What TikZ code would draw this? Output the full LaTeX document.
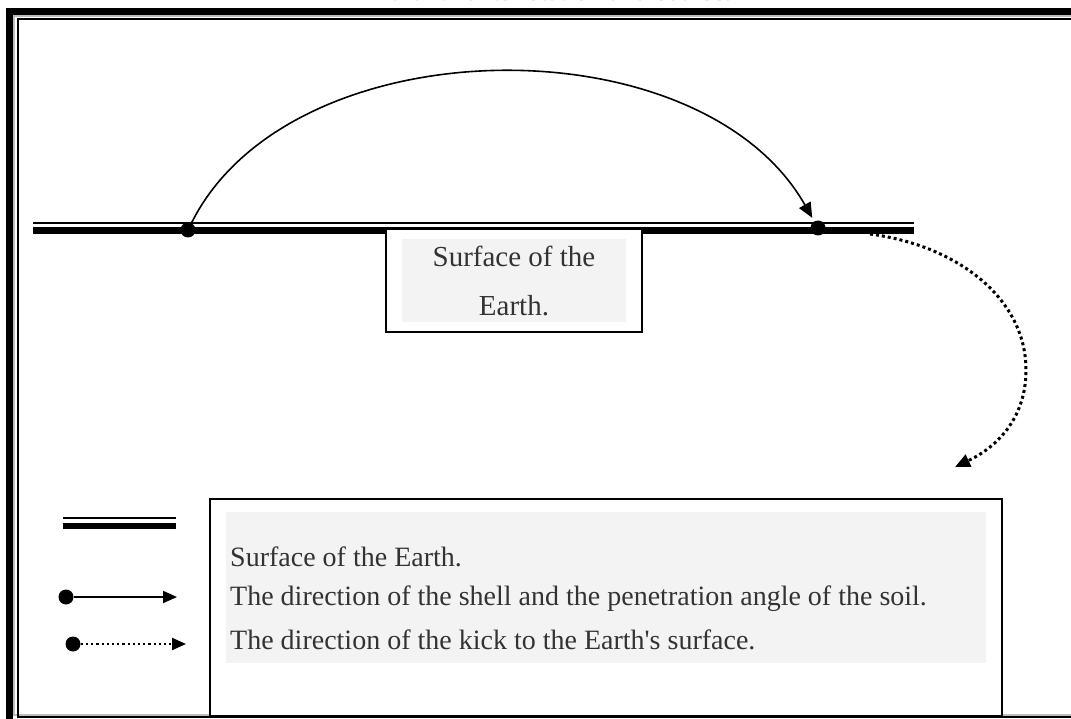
\documentclass[tikz,border=0pt]{standalone}
\usepackage{fontspec}
\setmainfont{Liberation Serif}
\usetikzlibrary{arrows.meta}
\definecolor{txt}{HTML}{333333}
\definecolor{panel}{HTML}{F3F3F3}
\definecolor{rule}{HTML}{BDBDBD}
\begin{document}
\begin{tikzpicture}[x=1pt,y=-1pt,
  blob/.style={circle,fill=black,inner sep=0pt,minimum size=15pt},
  tip/.style={-{Triangle[length=15pt,width=13pt]}},
  smalltip/.style={-{Triangle[length=14pt,width=12pt]}},
  boxline/.style={draw=black,line width=2pt,fill=white,inner sep=0pt},
  panelbox/.style={fill=panel,inner sep=0pt},
  txtfont/.style={font=\fontsize{28}{41}\selectfont,text=txt},
]
\useasboundingbox (0,0) rectangle (1071,719);
% clipped title
\node[anchor=base,text=gray!80,font=\fontsize{27}{30}\selectfont,inner sep=0pt] (title) at (553,0.8) {Earth and its rotation and course.};
% page frame
\draw[line width=7pt] (9.5,11.5) rectangle (1100,723);
\draw[rule,line width=1.5pt] (14,16) rectangle (1100,715);
\draw[line width=2pt] (17.7,19) rectangle (1100,716.5);
% surface of the earth
\coordinate (sl) at (33,223);
\coordinate (sr) at (914,223);
\coordinate (tl) at (33,230.5);
\coordinate (tr) at (914,230.5);
\draw[line width=2pt] (sl) -- (sr);
\draw[line width=7pt] (tl) -- (tr);
% label box
\node[boxline,minimum width=256pt,minimum height=103pt] (sbox) at (514,280.5) {};
\node[panelbox,minimum width=224pt,minimum height=83pt,align=center,font=\fontsize{29}{49}\selectfont,text=txt] (stext) at (514,281) {Surface of the\\Earth.};
% points and trajectory
\node[blob] (p1) at (188,230) {};
\node[blob] (p2) at (818,228) {};
\draw[line width=1.6pt,tip,shorten >=4pt] (p1) .. controls (290,25) and (700,20) .. (p2);
% kick
\coordinate (k0) at (870,234);
\coordinate (k1) at (1026,370);
\coordinate (k2) at (955,467);
\draw[line width=3pt,dash pattern=on 3pt off 3pt,tip] (k0) .. controls (960,246) and (1026,300) .. (k1) .. controls (1026,420) and (995,448) .. (k2);
% legend
\node[boxline,minimum width=792pt,minimum height=217pt] (legend) at (606,607.5) {};
\node[panelbox,minimum width=760pt,minimum height=151pt] (lpanel) at (606,587.5) {};
\node[txtfont,anchor=west,inner sep=0pt] (l1) at (230,557) {Surface of the Earth.};
\node[txtfont,anchor=west,inner sep=0pt] (l2) at (230,599) {The direction of the shell and the penetration angle of the soil.};
\node[txtfont,anchor=west,inner sep=0pt] (l3) at (230,640) {The direction of the kick to the Earth\textquotesingle s surface.};
% legend symbols
\coordinate (d1) at (63,518.3);
\coordinate (d2) at (176,518.3);
\coordinate (d3) at (63,526);
\coordinate (d4) at (176,526);
\draw[line width=2pt] (d1) -- (d2);
\draw[line width=6.7pt] (d3) -- (d4);
\node[blob] (a1) at (66,597) {};
\coordinate (a2) at (177,597);
\draw[line width=2pt,smalltip] (a1) -- (a2);
\node[blob] (b1) at (73,644) {};
\coordinate (b2) at (186,644);
\draw[line width=2.2pt,dash pattern=on 2.2pt off 3pt,smalltip] (b1) -- (b2);
\end{tikzpicture}
\end{document}
